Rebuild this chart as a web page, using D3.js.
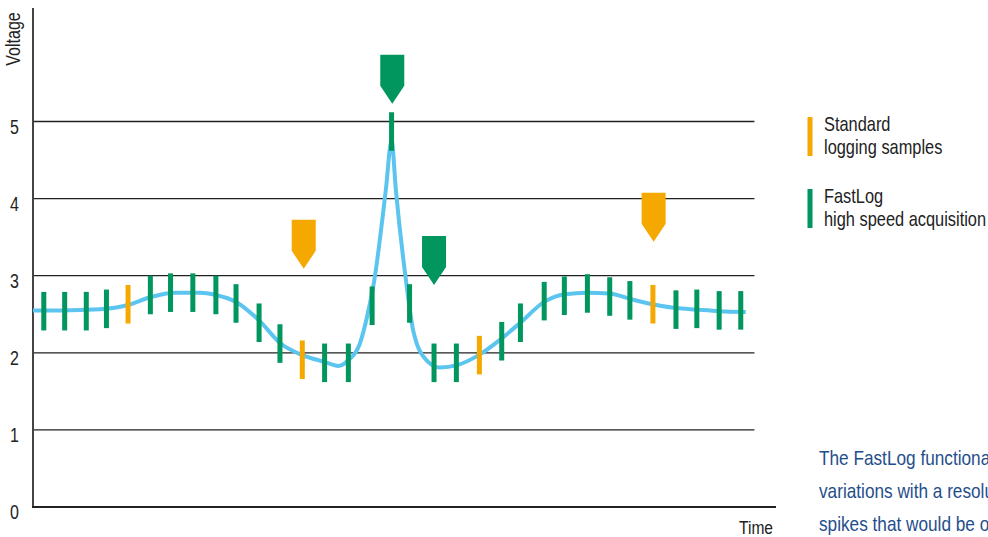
<!DOCTYPE html>
<html>
<head>
<meta charset="utf-8">
<script src="https://cdn.jsdelivr.net/npm/d3@7"></script>
<style>
  body { margin: 0; background: #fff; overflow: hidden; }
  svg { display: block; font-family: "Liberation Sans", Arial, sans-serif; }
</style>
</head>
<body>
<div id="chart"></div>
<script>
// y axis ticks
const voltageTicks = [0, 1, 2, 3, 4, 5];

// analogue signal (time in arbitrary units, voltage)
const signalTimes = [0, 3.75, 9.3, 13.2, 16.25, 19.7, 23.2, 25.4, 28.2, 31.4, 34.4, 37.4, 40.6, 42.4, 43.75,
  45.4, 46.5, 47.4, 49.0, 49.8, 50.4, 51.8, 52.8, 53.3, 54.7, 56.5, 58.9, 61.9, 65.0, 67.8, 71.0, 73.9,
  76.9, 80.1, 82.9, 86.0, 89.3, 92.2, 95.3, 99.0];
const signalValues = [2.55, 2.55, 2.565, 2.62, 2.72, 2.78, 2.78, 2.75, 2.66, 2.42, 2.12, 1.97, 1.88, 1.83, 1.90,
  2.12, 2.51, 2.94, 4.11, 4.75, 4.11, 2.94, 2.29, 2.12, 1.90, 1.81, 1.84, 1.97, 2.18, 2.40, 2.66, 2.76,
  2.78, 2.77, 2.70, 2.63, 2.58, 2.56, 2.54, 2.53];

// FastLog samples
const fastTimes = [1.5, 4.4, 7.4, 10.2, 16.3, 19.1, 22.2, 25.4, 28.2, 31.4, 34.3, 40.5, 43.8, 47.1, 49.8, 52.3,
  55.7, 58.8, 65.1, 67.7, 71.0, 73.8, 77.0, 80.1, 82.9, 89.3, 92.2, 95.3, 98.3];
const fastValues = [2.54, 2.54, 2.54, 2.57, 2.75, 2.78, 2.78, 2.75, 2.64, 2.39, 2.12, 1.87, 1.87, 2.61, 4.87, 2.64,
  1.87, 1.87, 2.15, 2.39, 2.67, 2.74, 2.77, 2.73, 2.68, 2.56, 2.57, 2.55, 2.55];

// standard logging samples
const standardTimes = [13.2, 37.4, 62.0, 86.1];
const standardValues = [2.63, 1.91, 1.97, 2.63];

// pointer markers (tip position)
const markerTimes = [37.6, 49.9, 55.7, 86.2];
const markerValues = [3.09, 5.23, 2.88, 3.44];
const markerKinds = ["standard", "fast", "fast", "standard"];

const legendLabels = [["Standard", "logging samples"], ["FastLog", "high speed acquisition"]];
const noteLines = ["The FastLog functionality captures", "variations with a resolution of", "spikes that would be otherwise"];

const green = "#00965e", orange = "#f5a800", blue = "#5bc5ef", ink = "#222";
const narrow = 0.82; // condensed look

const W = 988, H = 537;
const svg = d3.select("#chart").append("svg").attr("width", W).attr("height", H);

const x = d3.scaleLinear().domain([0, 100]).range([33, 753]);
const y = d3.scaleLinear().domain([0, 5]).range([507, 121.5]);
const halfStick = 0.25;

// gridlines
svg.append("g").selectAll("line")
  .data(voltageTicks.filter(d => d > 0))
  .join("line")
  .attr("x1", x(0)).attr("x2", x(100.2))
  .attr("y1", d => y(d)).attr("y2", d => y(d))
  .attr("stroke", ink).attr("stroke-width", 1.3);

// axes
svg.append("line").attr("x1", 33).attr("x2", 33).attr("y1", 8).attr("y2", y(0))
  .attr("stroke", "#444").attr("stroke-width", 2);
svg.append("line").attr("x1", 32).attr("x2", 776).attr("y1", y(0)).attr("y2", y(0))
  .attr("stroke", ink).attr("stroke-width", 2);

svg.append("g").selectAll("text")
  .data(voltageTicks)
  .join("text")
  .attr("transform", d => `translate(14.5,${y(d) + 12}) scale(${narrow},1)`)
  .attr("text-anchor", "middle")
  .attr("font-size", 19.5).attr("fill", ink)
  .text(d => d);

svg.append("text")
  .attr("transform", `translate(20,39) rotate(-90) scale(${narrow},1)`)
  .attr("text-anchor", "middle")
  .attr("font-size", 19.5).attr("fill", ink)
  .text("Voltage");

svg.append("text")
  .attr("transform", `translate(756,534) scale(${narrow},1)`)
  .attr("text-anchor", "middle")
  .attr("font-size", 19).attr("fill", ink)
  .text("Time");

// signal curve
const line = d3.line()
  .x(d => x(d[0]))
  .y(d => y(d[1]))
  .curve(d3.curveMonotoneX);

svg.append("path")
  .datum(d3.zip(signalTimes, signalValues))
  .attr("fill", "none")
  .attr("stroke", blue)
  .attr("stroke-width", 4)
  .attr("stroke-linejoin", "round")
  .attr("d", line);

// samples
function drawSticks(times, values, color) {
  svg.append("g").selectAll("rect")
    .data(d3.zip(times, values))
    .join("rect")
    .attr("x", d => x(d[0]) - 2.5)
    .attr("width", 5)
    .attr("y", d => y(d[1] + halfStick))
    .attr("height", d => y(d[1] - halfStick) - y(d[1] + halfStick))
    .attr("fill", color);
}
drawSticks(fastTimes, fastValues, green);
drawSticks(standardTimes, standardValues, orange);

// pointer markers
svg.append("g").selectAll("path")
  .data(d3.zip(markerTimes, markerValues, markerKinds))
  .join("path")
  .attr("transform", d => `translate(${x(d[0])},${y(d[1])})`)
  .attr("d", "M0,0 L-12,-18 L-12,-49 L12,-49 L12,-18 Z")
  .attr("fill", d => d[2] === "fast" ? green : orange);

// legend
const legend = svg.append("g").selectAll("g")
  .data(legendLabels)
  .join("g")
  .attr("transform", (d, i) => `translate(0,${117 + i * 72})`);

legend.append("rect")
  .attr("x", 807.5).attr("width", 5).attr("height", 39)
  .attr("fill", (d, i) => i === 0 ? orange : green);

legend.append("text")
  .attr("transform", `translate(824,0) scale(${narrow},1)`)
  .attr("font-size", 20).attr("fill", ink)
  .selectAll("tspan")
  .data(d => d)
  .join("tspan")
  .attr("x", 0)
  .attr("y", (d, i) => 14 + i * 23)
  .text(d => d);

// note
svg.append("g").selectAll("text")
  .data(noteLines)
  .join("text")
  .attr("transform", (d, i) => `translate(819,${465 + i * 33}) scale(${narrow},1)`)
  .attr("font-size", 21).attr("fill", "#1f4e8c")
  .text(d => d);
</script>
</body>
</html>
